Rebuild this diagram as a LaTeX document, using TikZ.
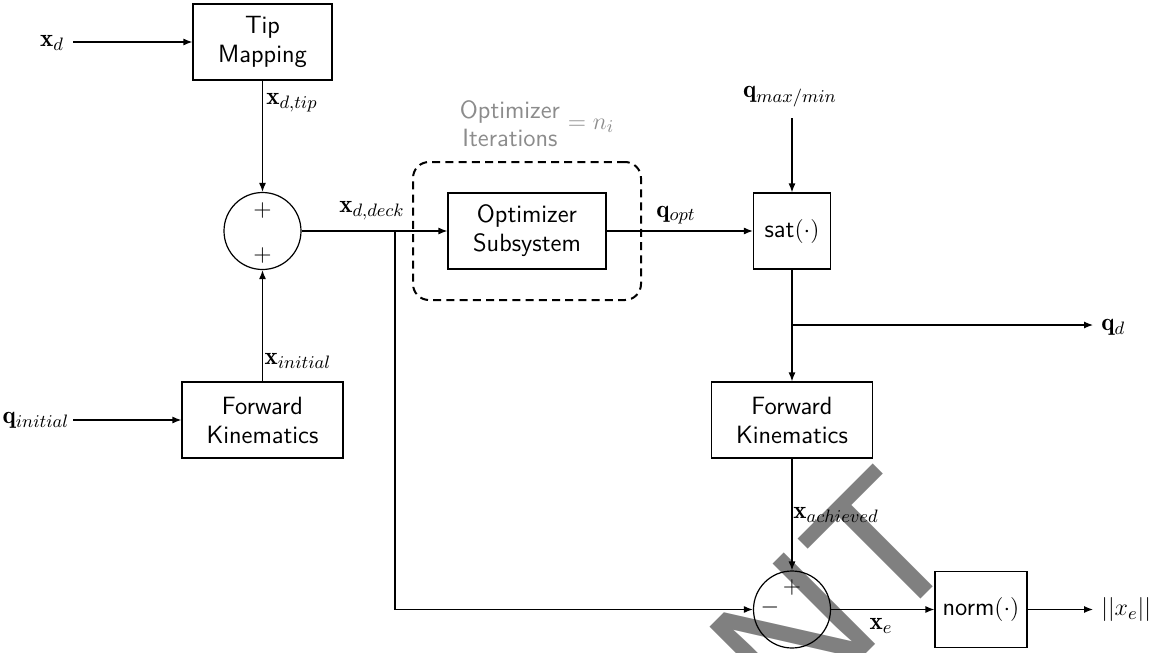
\documentclass[tikz,border=0pt]{standalone}
\usepackage{fontspec}
\newfontfamily\wmfont{Liberation Sans}
\usetikzlibrary{arrows.meta}
\begin{document}
\begin{tikzpicture}[x=0.5pt,y=-0.5pt,
  every node/.style={font=\fontsize{12.5}{14.5}\selectfont},
  blk/.style={draw, fill=white, line width=0.6pt, inner sep=0pt, minimum height=38pt, font=\sffamily\fontsize{12.5}{14.5}\selectfont, align=center},
  sumc/.style={draw, circle, line width=0.6pt, minimum size=38.5pt, inner sep=0pt},
  arr/.style={-{Latex[length=4.5pt,width=3.5pt]}, line width=0.6pt},
  lbl/.style={inner sep=0pt},
  sgn/.style={inner sep=0pt, font=\fontsize{12}{14}\selectfont},
  grp/.style={draw, dash pattern=on 4pt off 2.6pt, line width=1pt, rounded corners=8pt, inner sep=0pt},
  note/.style={inner sep=0pt, text=black!45, align=center, font=\sffamily\fontsize{12.5}{14}\selectfont}]
\useasboundingbox (0,0) rectangle (1167,653);
% watermark
\begin{scope}
\clip (0,0) rectangle (1167,653);
\node[rotate=45, anchor=base east, inner sep=0pt, text=gray, font=\wmfont\fontsize{94}{94}\selectfont] (wm) at (968,552) {NT};
\end{scope}
% blocks
\node[blk, minimum width=69.5pt] (tip) at (262.5,42) {Tip\\Mapping};
\node[sumc] (s1) at (262.5,231) {};
\node[sgn] (s1p) at (262.5,210) {$+$};
\node[sgn] (s1q) at (262.5,255) {$+$};
\node[grp, minimum width=114pt, minimum height=69pt] (grp) at (527,231) {};
\node[blk, minimum width=79pt] (opt) at (527,231) {Optimizer\\Subsystem};
\node[blk, minimum width=38.5pt] (sat) at (792,231) {sat$(\cdot)$};
\node[blk, minimum width=80.5pt] (fk1) at (262.5,420) {Forward\\Kinematics};
\node[blk, minimum width=80.5pt] (fk2) at (792,420) {Forward\\Kinematics};
\node[sumc] (s2) at (792,609.5) {};
\node[sgn] (s2p) at (792,587) {$+$};
\node[sgn] (s2m) at (770,607) {$-$};
\node[blk, minimum width=46pt] (norm) at (981,609.5) {norm$(\cdot)$};
% note
\node[note] (it) at (510,124) {Optimizer\\Iterations};
\node[note] (ni) at (591,126) {$=n_i$};
% inputs
\node[lbl] (lxd) at (52,43) {$\mathbf{x}_d$};
\coordinate (cxd) at (73,42);
\draw[arr] (cxd) -- (tip.west);
\node[lbl] (lqi) at (36,420) {$\mathbf{q}_{initial}$};
\coordinate (cqi) at (73,420);
\draw[arr] (cqi) -- (fk1.west);
\node[lbl] (lqm) at (790,97) {$\mathbf{q}_{max/min}$};
\coordinate (cqm) at (792,118);
\draw[arr] (cqm) -- (sat.north);
% connectors
\draw[arr] (tip.south) -- (s1.north);
\node[lbl] (lxt) at (292,103) {$\mathbf{x}_{d,tip}$};
\draw[arr] (fk1.north) -- (s1.south);
\node[lbl] (lxi) at (298,361) {$\mathbf{x}_{initial}$};
\coordinate (b1) at (395,231);
\draw[arr] (s1.east) -- (opt.west);
\node[lbl] (lxdd) at (372,211) {$\mathbf{x}_{d,deck}$};
\draw[arr] (b1) |- (s2.west);
\draw[arr] (opt.east) -- (sat.west);
\node[lbl] (lqo) at (676,215) {$\mathbf{q}_{opt}$};
\coordinate (b2) at (792,325);
\draw[arr] (sat.south) -- (fk2.north);
\coordinate (qd) at (1093,325);
\draw[arr] (b2) -- (qd);
\node[lbl, anchor=west] (lqd) at (1101,327) {$\mathbf{q}_d$};
\draw[arr] (fk2.south) -- (s2.north);
\node[lbl] (lxa) at (836,515) {$\mathbf{x}_{achieved}$};
\draw[arr] (s2.east) -- (norm.west);
\node[lbl] (lxe) at (881,626) {$\mathbf{x}_e$};
\coordinate (xo) at (1093,609.5);
\draw[arr] (norm.east) -- (xo);
\node[lbl, anchor=west] (lxo) at (1101,609.5) {$||x_e||$};
\end{tikzpicture}
\end{document}
